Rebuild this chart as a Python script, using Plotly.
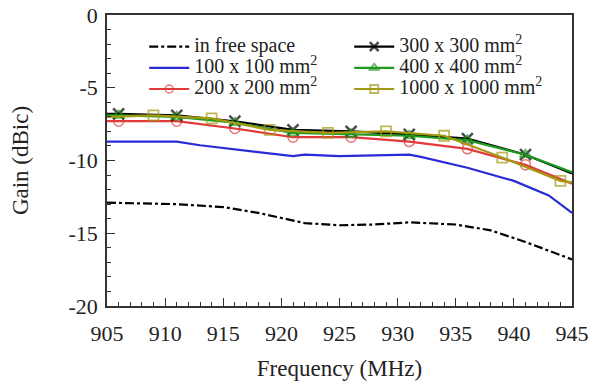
import plotly.graph_objects as go

# ---- data ----
free_f = [905, 911, 915, 918, 922, 925, 928, 931, 935, 938, 941, 945]
free_g = [-12.9, -13.0, -13.2, -13.6, -14.3, -14.45, -14.4, -14.25, -14.4, -14.8, -15.6, -16.8]

b100_f = [905, 911, 913, 917, 921, 922, 925, 931, 932, 936, 940, 943, 945]
b100_g = [-8.7, -8.7, -8.95, -9.3, -9.7, -9.6, -9.7, -9.6, -9.75, -10.5, -11.4, -12.4, -13.6]

p200_f = [905, 906, 911, 916, 921, 926, 931, 936, 941, 945]
p200_g = [-7.3, -7.3, -7.3, -7.8, -8.4, -8.4, -8.7, -9.2, -10.3, -11.6]

p300_f = [905, 906, 911, 916, 921, 926, 931, 936, 941, 945]
p300_g = [-6.8, -6.8, -6.9, -7.3, -7.9, -8.0, -8.2, -8.5, -9.6, -10.9]

p400_f = [905, 906, 911, 916, 921, 926, 931, 936, 941, 945]
p400_g = [-6.9, -6.9, -7.0, -7.4, -8.1, -8.2, -8.3, -8.6, -9.6, -10.8]

p1000_f = [905, 909, 914, 919, 924, 929, 934, 939, 944, 945]
p1000_g = [-7.0, -6.9, -7.1, -7.9, -8.1, -8.0, -8.3, -9.8, -11.4, -11.5]

x_ticks = [905, 910, 915, 920, 925, 930, 935, 940, 945]
y_ticks = [-20, -15, -10, -5, 0]
y_tick_text = ["-20", "-15", "-10", "-5", "0"]

series_labels = {
    "free": "in free space",
    "100": "100 x 100 mm<sup>2</sup>",
    "200": "200 x 200 mm<sup>2</sup>",
    "300": "300 x 300 mm<sup>2</sup>",
    "400": "400 x 400 mm<sup>2</sup>",
    "1000": "1000 x 1000 mm<sup>2</sup>",
}

FONT = "'Liberation Serif', 'Times New Roman', serif"


def leg(key):
    # larger visible text while legend rows stay compact
    return '<span style="font-size:20px">' + series_labels[key] + "</span>"


def msizes(n, s=10):
    # no marker at the curve end points
    return [0] + [s] * (n - 2) + [0]


fig = go.Figure()
fig.add_trace(go.Scatter(x=free_f, y=free_g, mode="lines", name=leg("free"),
                         line=dict(color="black", width=2.2, dash="dashdot"), legendrank=1))
fig.add_trace(go.Scatter(x=b100_f, y=b100_g, mode="lines", name=leg("100"),
                         line=dict(color="#2a2ad6", width=2.2), legendrank=3))
fig.add_trace(go.Scatter(x=p200_f, y=p200_g, mode="lines+markers", name=leg("200"),
                         line=dict(color="#e23a3a", width=2.2),
                         marker=dict(symbol="circle-open", size=msizes(len(p200_f)), color="#e23a3a",
                                     line=dict(width=1.5, color="#e23a3a")), legendrank=5))
fig.add_trace(go.Scatter(x=p300_f, y=p300_g, mode="lines+markers", name=leg("300"),
                         line=dict(color="black", width=2.2),
                         marker=dict(symbol="x-thin-open", size=msizes(len(p300_f), 11), color="black",
                                     line=dict(width=2.5, color="black")), legendrank=2))
fig.add_trace(go.Scatter(x=p400_f, y=p400_g, mode="lines+markers", name=leg("400"),
                         line=dict(color="#1e9a1e", width=2.2),
                         marker=dict(symbol="triangle-up-open", size=msizes(len(p400_f)), color="#1e9a1e",
                                     line=dict(width=1.8, color="#1e9a1e")), legendrank=4))
fig.add_trace(go.Scatter(x=p1000_f, y=p1000_g, mode="lines+markers", name=leg("1000"),
                         line=dict(color="#a39a14", width=2.2),
                         marker=dict(symbol="square-open", size=msizes(len(p1000_f)), color="#a39a14",
                                     line=dict(width=1.8, color="#a39a14")), legendrank=6))

axis_common = dict(
    showline=True, linecolor="#333", linewidth=1.5, mirror=True,
    ticks="inside", ticklen=8, tickwidth=1, tickcolor="#333",
    showgrid=False, zeroline=False, automargin=False, ticklabeloverflow="allow",
    tickfont=dict(family=FONT, size=22, color="#222"),
)

# page body has an 8px default margin, so the figure is 16px smaller than the window
fig.update_layout(
    width=590, height=377,
    margin=dict(l=99, r=26, t=7, b=79),
    paper_bgcolor="white", plot_bgcolor="white",
    font=dict(family=FONT, color="#222"),
    showlegend=True,
    legend=dict(
        orientation="h", x=0.08, y=0.945, xanchor="left", yanchor="top",
        entrywidth=150, entrywidthmode="pixels",
        font=dict(family=FONT, size=14, color="#222"),
        bgcolor="rgba(0,0,0,0)", tracegroupgap=0, itemwidth=40,
    ),
    xaxis=dict(
        range=[905, 945], tickvals=x_ticks, ticklabelstandoff=7,
        minor=dict(ticks="inside", ticklen=4, dtick=1, tick0=905, tickcolor="#333", showgrid=False),
        title=dict(text="Frequency (MHz)", font=dict(family=FONT, size=23, color="#222"), standoff=15),
        **axis_common,
    ),
    yaxis=dict(
        range=[-20, 0], tickmode="array", tickvals=y_ticks, ticktext=y_tick_text, ticklabelstandoff=3,
        minor=dict(ticks="inside", ticklen=4, dtick=1, tick0=0, tickcolor="#333", showgrid=False),
        title=dict(text="Gain (dBic)", font=dict(family=FONT, size=23, color="#222"), standoff=38),
        **axis_common,
    ),
)

fig.write_html("out.html")
